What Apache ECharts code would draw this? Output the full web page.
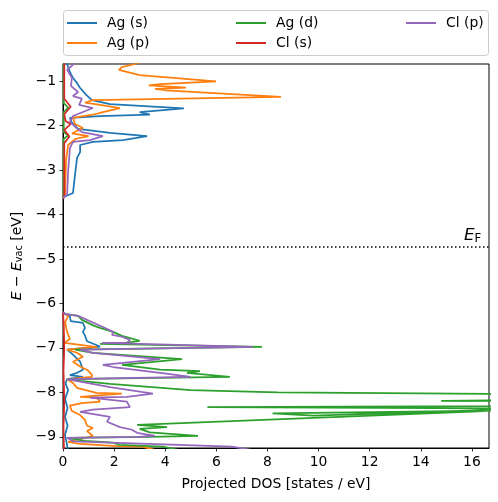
<!DOCTYPE html>
<html><head><meta charset="utf-8">
<script src="https://cdn.jsdelivr.net/npm/echarts@6/dist/echarts.min.js"></script>
<style>html,body{margin:0;padding:0;background:#fff}#c{width:498px;height:502px}</style>
</head><body><div id="c"></div>
<script>
// ---- data: [DOS (states/eV), E - E_vac (eV)] ----
const seriesNames = ['Ag (s)', 'Ag (p)', 'Ag (d)', 'Cl (s)', 'Cl (p)'];
const xTicks = [0, 2, 4, 6, 8, 10, 12, 14, 16];
const yTicks = [-9, -8, -7, -6, -5, -4, -3, -2, -1];
const xMax = 16.67, yMin = -9.25, yMax = -0.62;
const fermiLevel = -4.73;

const agS_cb = [[0.1,-0.55],[0.16,-0.62],[0.27,-0.80],[0.39,-0.93],[0.55,-1.05],[0.67,-1.16],[0.9,-1.31],[1.13,-1.43],[1.84,-1.52],[4.73,-1.62],[3.0,-1.70],[3.4,-1.76],[1.45,-1.79],[0.27,-1.83],[0.35,-1.94],[0.59,-2.08],[1.84,-2.17],[3.29,-2.24],[2.35,-2.33],[1.17,-2.37],[0.67,-2.44],[0.67,-2.60],[0.55,-2.73],[0.47,-3.11],[0.39,-3.52],[0.04,-3.61],[0,-3.65]];
const agS_vb = [[0,-6.20],[0.08,-6.24],[0.27,-6.29],[0.3,-6.40],[0.78,-6.44],[0.86,-6.55],[0.78,-6.64],[0.86,-6.72],[0.94,-6.85],[1.45,-6.97],[0.67,-7.01],[0.16,-7.04],[0.39,-7.15],[0.67,-7.31],[0.78,-7.49],[0.55,-7.56],[0.27,-7.61],[0.78,-7.65],[0.16,-7.70],[0.1,-7.80],[0.2,-7.95],[0.08,-8.15],[0.18,-8.35],[0.08,-8.55],[0.18,-8.75],[0.08,-8.95],[0.15,-9.15],[0.2,-9.35]];

const agP_cb = [[3.2,-0.55],[2.82,-0.62],[2.3,-0.69],[2.19,-0.75],[3.0,-0.87],[5.99,-1.01],[3.8,-1.07],[3.36,-1.10],[4.81,-1.15],[3.6,-1.18],[4.0,-1.21],[8.53,-1.36],[1.17,-1.43],[0.86,-1.49],[1.45,-1.54],[2.23,-1.61],[1.56,-1.70],[1.17,-1.76],[0.39,-1.83],[0.47,-1.97],[0.78,-2.06],[0.35,-2.18],[1.0,-2.24],[0.5,-2.30],[0.2,-2.44],[0.12,-2.78],[0.08,-3.56],[0,-3.63]];
const agP_vb = [[0,-6.20],[0.08,-6.24],[0.2,-6.29],[0.08,-6.42],[0.16,-6.64],[0.27,-6.80],[0.05,-6.89],[0.67,-6.93],[1.33,-6.98],[0.16,-7.04],[0.55,-7.11],[0.78,-7.20],[0.39,-7.31],[0.67,-7.42],[0.94,-7.49],[1.13,-7.60],[1.13,-7.65],[0.16,-7.70],[0.39,-7.79],[0.55,-7.90],[1.3,-8.01],[2.3,-8.03],[0.67,-8.10],[1.33,-8.12],[1.45,-8.21],[0.74,-8.24],[0.27,-8.30],[0.35,-8.42],[0.67,-8.51],[0.86,-8.62],[0.94,-8.75],[1.17,-8.80],[0.94,-8.87],[1.17,-8.98],[0.2,-9.11],[0.67,-9.16],[2.1,-9.21],[3.1,-9.22],[4.0,-9.35]];

const agD_cb = [[0.02,-0.55],[0.03,-1.50],[0.2,-1.60],[0.03,-1.70],[0.03,-2.15],[0.2,-2.23],[0.03,-2.30],[0.02,-3.60],[0,-3.65]];
const agD_vb = [[0,-6.20],[0.1,-6.24],[0.59,-6.28],[0.74,-6.37],[1.2,-6.50],[1.45,-6.55],[1.96,-6.64],[2.31,-6.73],[3.0,-6.84],[2.43,-6.89],[1.45,-6.91],[7.79,-6.98],[0.47,-7.04],[1.17,-7.11],[4.66,-7.25],[2.31,-7.38],[3.8,-7.49],[5.36,-7.52],[4.85,-7.56],[6.53,-7.65],[0.16,-7.70],[0.67,-7.74],[1.84,-7.81],[5.0,-7.95],[8.4,-8.00],[18,-8.04],[25,-8.15],[14.8,-8.19],[25,-8.23],[25,-8.29],[5.65,-8.33],[22,-8.37],[8.2,-8.47],[9.8,-8.52],[22,-8.30],[2.9,-8.73],[4.07,-8.78],[3.0,-8.82],[3.4,-8.90],[5.28,-8.98],[3.4,-9.00],[0.16,-9.02],[0.86,-9.09],[1.96,-9.13],[2.2,-9.18],[3.9,-9.22],[5.0,-9.35]];

const clS_cb = [[0.05,-0.55],[0.05,-1.40],[0.3,-1.58],[0.05,-1.75],[0.1,-1.90],[0.3,-1.97],[0.05,-2.10],[0.25,-2.25],[0.05,-2.40],[0.05,-3.60],[0,-3.65]];
const clS_vb = [[0,-6.20],[0.03,-6.50],[0.05,-7.00],[0.02,-7.50],[0.05,-8.20],[0.02,-8.80],[0.04,-9.35]];

const clP_cb = [[0.45,-0.55],[0.39,-0.64],[0.16,-0.75],[0.35,-0.93],[0.31,-1.11],[0.59,-1.25],[0.39,-1.34],[0.74,-1.40],[0.63,-1.54],[1.17,-1.61],[0.78,-1.70],[0.39,-1.79],[0.27,-1.92],[0.47,-2.03],[0.74,-2.15],[1.56,-2.24],[1.06,-2.33],[0.39,-2.37],[0.27,-2.51],[0.2,-3.04],[0.16,-3.56],[0,-3.63]];
const clP_vb = [[0,-6.20],[0.1,-6.24],[0.59,-6.28],[1.56,-6.53],[1.96,-6.64],[1.92,-6.71],[2.31,-6.75],[2.62,-6.82],[2.5,-6.89],[1.53,-6.89],[7.43,-6.98],[0.67,-7.04],[1.17,-7.11],[3.8,-7.25],[1.56,-7.38],[1.96,-7.43],[3.8,-7.56],[5.0,-7.65],[0.16,-7.70],[0.67,-7.76],[1.84,-7.88],[3.52,-8.03],[2.5,-8.10],[1.06,-8.12],[2.5,-8.21],[2.62,-8.33],[1.17,-8.39],[0.67,-8.44],[1.84,-8.55],[1.72,-8.66],[2.23,-8.78],[2.7,-8.84],[2.9,-8.91],[3.6,-8.98],[2.9,-9.00],[0.16,-9.02],[0.39,-9.10],[1.84,-9.13],[6.6,-9.22],[8.0,-9.35]];

const bands = [[agS_cb, agS_vb], [agP_cb, agP_vb], [agD_cb, agD_vb], [clS_cb, clS_vb], [clP_cb, clP_vb]];
const colors = ['#1f77b4', '#ff7f0e', '#2ca02c', '#d62728', '#9467bd'];

// ---- chart ----
const FONT = 'DejaVu Sans';
const FS = 13.9;
const chart = echarts.init(document.getElementById('c'), null, {renderer: 'canvas'});

const series = seriesNames.map((name, i) => ({
  name, type: 'line', symbol: 'none', showSymbol: false, clip: true,
  color: colors[i],
  lineStyle: {width: 1.75, color: colors[i]},
  data: bands[i][0].concat([['-', '-']], bands[i][1]),
  z: 2 + i,
  animation: false
}));
series[series.length - 1].markLine = {
  silent: true, symbol: 'none', animation: false,
  lineStyle: {color: '#000', width: 1.5, type: [1.5, 2.5]},
  label: {show: false},
  data: [{yAxis: fermiLevel}]
};

const legendCommon = {
  orient: 'vertical', itemWidth: 30, itemHeight: 2, icon: 'rect', itemGap: 4, padding: 0,
  textStyle: {fontFamily: FONT, fontSize: FS, color: '#000', lineHeight: 16, padding: [0, 0, 0, 5]},
  selectedMode: false
};

chart.setOption({
  backgroundColor: '#fff',
  animation: false,
  textStyle: {fontFamily: FONT},
  grid: {left: 63, top: 64, width: 426, height: 384, show: true, borderColor: '#000', borderWidth: 1, containLabel: false},
  legend: [
    Object.assign({}, legendCommon, {left: 67, top: 15, data: ['Ag (s)', 'Ag (p)']}),
    Object.assign({}, legendCommon, {left: 236, top: 15, data: ['Ag (d)', 'Cl (s)']}),
    Object.assign({}, legendCommon, {left: 406, top: 15, data: ['Cl (p)']})
  ],
  xAxis: {
    type: 'value', min: 0, max: xMax,
    name: 'Projected DOS [states / eV]', nameLocation: 'middle', nameGap: 29,
    nameTextStyle: {fontFamily: FONT, fontSize: FS, color: '#000'},
    axisLine: {show: true, lineStyle: {color: '#000', width: 1}},
    axisTick: {show: true, inside: false, length: 3.5, lineStyle: {color: '#000', width: 0.8}, customValues: xTicks},
    axisLabel: {show: true, margin: 7, color: '#000', fontFamily: FONT, fontSize: FS, customValues: xTicks,
      formatter: v => String(v)},
    splitLine: {show: false}
  },
  yAxis: {
    type: 'value', min: yMin, max: yMax,
    name: '{i|E} \u2212 {i|E}{s|vac} [eV]', nameLocation: 'middle', nameGap: 38, nameRotate: 90,
    nameTextStyle: {fontFamily: FONT, fontSize: FS, color: '#000',
      rich: {
        i: {fontFamily: FONT, fontSize: FS, fontStyle: 'italic', color: '#000'},
        s: {fontFamily: FONT, fontSize: 9.7, color: '#000', padding: [5, 0, 0, 0]}
      }},
    axisLine: {show: true, lineStyle: {color: '#000', width: 1}},
    axisTick: {show: true, inside: false, length: 3.5, lineStyle: {color: '#000', width: 0.8}, customValues: yTicks},
    axisLabel: {show: true, margin: 7, color: '#000', fontFamily: FONT, fontSize: FS, customValues: yTicks,
      formatter: v => String(v).replace('-', '\u2212')},
    splitLine: {show: false}
  },
  graphic: [
    {type: 'rect', z: 0, shape: {x: 63.5, y: 10.5, width: 425, height: 45, r: 3},
      style: {fill: 'rgba(255,255,255,0.8)', stroke: '#cccccc', lineWidth: 1}},
    {type: 'text', z: 10, left: 464, top: 227,
      style: {text: '{i|E}{s|F}', rich: {
        i: {fontFamily: FONT, fontSize: 16.7, fontStyle: 'italic', fill: '#000'},
        s: {fontFamily: FONT, fontSize: 11.7, fill: '#000', padding: [6, 0, 0, 0]}
      }}}
  ],
  series
});
</script>
</body></html>
